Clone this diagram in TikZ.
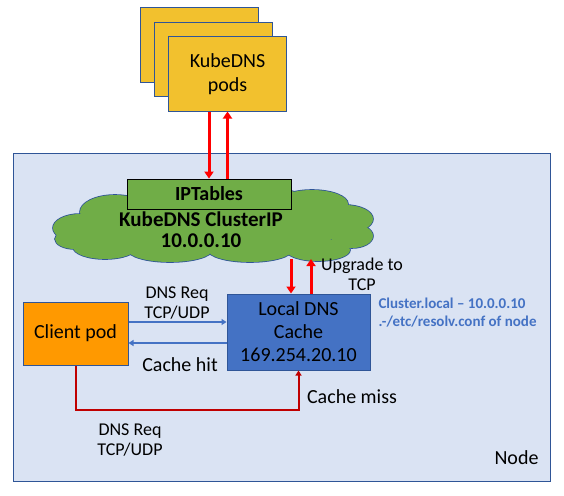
\documentclass[tikz,border=0pt]{standalone}
\usepackage{fontspec}
\setmainfont{Carlito}
\usetikzlibrary{arrows.meta}
\definecolor{nodefill}{HTML}{DAE3F3}
\definecolor{nodeline}{HTML}{2F5597}
\definecolor{podfill}{HTML}{F2C12E}
\definecolor{greenfill}{HTML}{70AD47}
\definecolor{clientfill}{HTML}{FF9900}
\definecolor{cachefill}{HTML}{4472C4}
\definecolor{darkred}{HTML}{C00000}
\begin{document}
\begin{tikzpicture}[x=1pt, y=-1pt,
    box/.style={draw=nodeline, line width=1pt, inner sep=0pt},
    big/.style={font=\fontsize{20}{23}\selectfont, align=center},
    small/.style={font=\fontsize{18}{20}\selectfont, align=center},
    redarrow/.style={red, line width=3pt, -{Triangle[width=9pt,length=7pt]}},
    bluearrow/.style={cachefill, line width=2pt, -{Triangle[width=6pt,length=5pt]}},
    missarrow/.style={darkred, line width=2pt, -{Triangle[width=6pt,length=5pt]}}]
    \useasboundingbox (0,0) rectangle (564,495);
    % node background
    \draw[draw=nodeline, fill=nodefill, line width=1pt] (13,153) rectangle (550,481);
    \node[big, anchor=east] (nodelabel) at (542,458) {Node};
    % kubedns pods
    \foreach \i in {0,1}
    {
        \draw[box, fill=podfill] (140+14.5*\i,8+14.5*\i) rectangle ++(118,74);
    }
    \node[box, fill=podfill, big, minimum width=118pt, minimum height=74pt, font=\fontsize{20}{24}\selectfont] (pod3) at (227.5,74) {KubeDNS\\pods};
    % cloud: outline pass, then fill pass
    \def\puffs{80/228/27/14, 115/212/35/17, 180/203/45/14, 260/201/45/14, 312/204/36/14,
        345/219/28/14, 352/236/21/12, 318/250/32/11, 250/250/42/12, 170/250/42/12,
        105/247/32/12, 75/239/20/10, 213/227/135/26}
    \foreach \cx/\cy/\rx/\ry in \puffs
    {
        \draw[nodeline, line width=1.6pt] (\cx,\cy) ellipse [x radius=\rx, y radius=\ry];
    }
    \foreach \cx/\cy/\rx/\ry in \puffs
    {
        \fill[greenfill] (\cx,\cy) ellipse [x radius=\rx, y radius=\ry];
    }
    \node[font=\bfseries\fontsize{21}{21}\selectfont, align=center] (cloudtext) at (201,230) {KubeDNS ClusterIP\\10.0.0.10};
    \node[draw=black, line width=.8pt, fill=greenfill, minimum width=164pt, minimum height=30pt,
        font=\bfseries\fontsize{20}{22}\selectfont] (iptables) at (209,194) {IPTables};
    % client and cache
    \node[box, fill=clientfill, big, minimum width=105pt, minimum height=63pt] (client) at (75.5,333.5) {Client pod};
    \node[box, fill=cachefill, big, minimum width=143pt, minimum height=76pt] (cache) at (298.5,332) {Local DNS\\Cache\\169.254.20.10};
    \coordinate (cloudbase) at (300,259);
    % arrows
    \draw[redarrow] ([xshift=-18.5pt]pod3.south) -- ([xshift=-18.5pt]pod3.south |- iptables.north);
    \draw[redarrow] (pod3.south |- iptables.north) -- (pod3.south);
    \draw[redarrow] ([xshift=-7.5pt]cache.north |- cloudbase) -- ([xshift=-7.5pt]cache.north);
    \draw[redarrow] ([xshift=12.5pt]cache.north) -- ([xshift=12.5pt]cache.north |- cloudbase);
    \draw[bluearrow] ([yshift=11.5pt]client.east) -- ([yshift=11.5pt]client.east -| cache.west);
    \draw[bluearrow] ([yshift=-9.5pt]client.east -| cache.west) -- ([yshift=-9.5pt]client.east);
    \draw[missarrow] (client.south) -- ++(0,44) -| (cache.south);
    % labels
    \node[small] (reqlabel) at (177,303) {DNS Req\\TCP/UDP};
    \node[big] (hitlabel) at (180,365) {Cache hit};
    \node[small] (upgradelabel) at (362,274) {Upgrade to\\TCP};
    \node[big] (misslabel) at (352,397) {Cache miss};
    \node[small] (reqlabel2) at (130,440) {DNS Req\\TCP/UDP};
    \node[anchor=west, align=left, text=cachefill, font=\bfseries\fontsize{15}{18}\selectfont] (resolv) at (375,313)
        {Cluster.local – 10.0.0.10\\.-/etc/resolv.conf of node};
\end{tikzpicture}
\end{document}
